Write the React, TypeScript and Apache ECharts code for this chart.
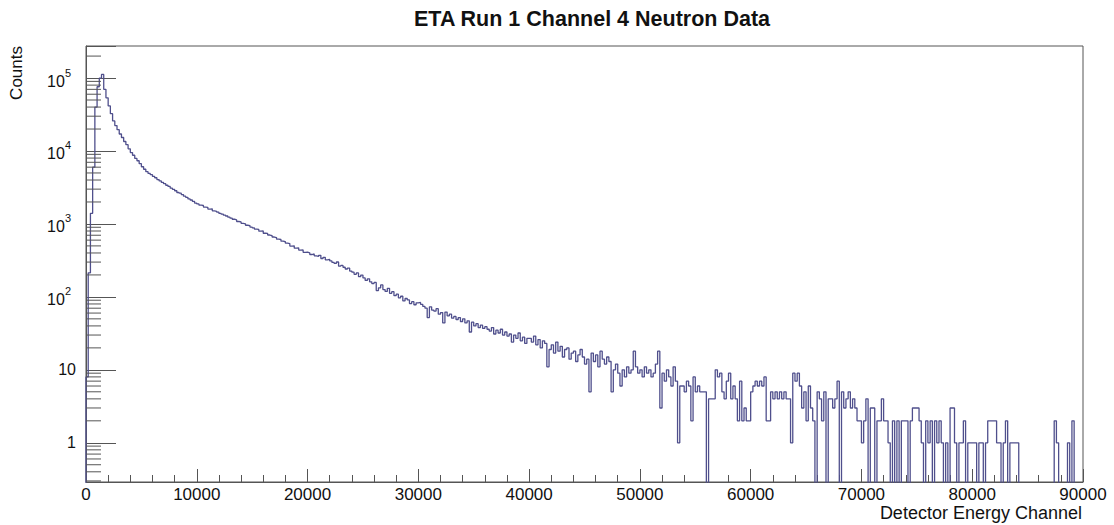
import React, { useEffect, useRef } from "react";
import * as echarts from "echarts";

const CHART_TITLE = "ETA Run 1 Channel 4 Neutron Data";
const X_TITLE = "Detector Energy Channel";
const Y_TITLE = "Counts";

const BIN_WIDTH = 200;
const X_MIN = 0;
const X_MAX = 90000;
const X_TICK_STEP = 10000;
const Y_MIN = 0.29;
const Y_MAX = 275000;
const Y_MINOR_MANTISSAS = [2, 3, 4, 5, 6, 7, 8, 9];
const Y_DECADES = [-1, 0, 1, 2, 3, 4, 5];

// bin contents, 200 channels per bin
const counts00kTo10k = [
  8, 214, 1400, 6000, 40000, 76000, 100000, 112000, 70000, 53500,
  41500, 32500, 25800, 22300, 19600, 17100, 15300, 13500, 12200, 10700,
  9500, 8750, 7900, 7350, 6700, 6080, 5620, 5210, 4930, 4740,
  4480, 4300, 4060, 3890, 3710, 3560, 3390, 3270, 3090, 2980,
  2850, 2700, 2640, 2530, 2400, 2320, 2200, 2130, 2040, 1930,
];
const counts10kTo20k = [
  1880, 1810, 1790, 1705, 1690, 1600, 1610, 1515, 1490, 1450,
  1395, 1360, 1320, 1285, 1240, 1200, 1160, 1135, 1080, 1065,
  1020, 1005, 960, 950, 905, 885, 850, 842, 795, 800,
  745, 742, 705, 690, 662, 650, 618, 612, 580, 570,
  545, 538, 498, 502, 466, 470, 438, 441, 408, 410,
];
const counts20kTo30k = [
  402, 381, 388, 366, 359, 371, 336, 349, 322, 328,
  311, 297, 288, 301, 264, 270, 255, 241, 248, 226,
  218, 204, 213, 189, 199, 182, 168, 177, 161, 152,
  158, 122, 133, 146, 126, 119, 131, 112, 118, 104,
  109, 97, 102, 88, 95, 91, 81, 86, 78, 83,
];
const counts30kTo40k = [
  84, 79, 74, 70, 52, 73, 66, 64, 69, 58,
  61, 44, 62, 55, 58, 51, 54, 49, 52, 46,
  50, 44, 47, 33, 45, 40, 43, 38, 41, 37,
  39, 36, 34, 38, 31, 35, 32, 36, 30, 33,
  29, 31, 24, 30, 27, 32, 25, 28, 23, 27,
];
const counts40kTo50k = [
  27, 24, 29, 22, 26, 20, 25, 23, 11, 19,
  22, 17, 24, 18, 21, 15, 19, 20, 14, 17,
  18, 13, 16, 19, 15, 12, 14, 5, 17, 13,
  16, 11, 18, 14, 12, 15, 13, 5, 10, 12,
  9, 6, 10, 8, 11, 9, 10, 18, 11, 9,
];
const counts50kTo60k = [
  10, 8, 11, 9, 10, 8, 9, 12, 18, 3,
  9, 7, 10, 8, 6, 11, 7, 1, 6, 6,
  5, 7, 6, 2, 8, 5, 6, 5, 5, 5,
  0, 4, 4, 4, 10, 8, 9, 5, 4, 7,
  9, 4, 6, 4, 2, 7, 2, 3, 2, 2,
];
const counts60kTo70k = [
  5, 6, 7, 6, 7, 6, 8, 2, 2, 5,
  4, 5, 4, 5, 4, 5, 4, 4, 1, 9,
  7, 9, 6, 3, 5, 2, 6, 3, 2, 0,
  5, 4, 2, 5, 0, 4, 4, 3, 4, 7,
  0, 5, 3, 4, 5, 3, 4, 3, 2, 2,
];
const counts70kTo80k = [
  1, 2, 4, 0, 3, 3, 0, 2, 2, 4,
  2, 2, 1, 0, 2, 0, 2, 0, 2, 2,
  2, 0, 2, 3, 3, 3, 2, 1, 0, 2,
  1, 2, 0, 2, 1, 2, 1, 0, 1, 0,
  3, 3, 1, 0, 1, 1, 2, 0, 1, 1,
];
const counts80kTo90k = [
  1, 1, 0, 1, 1, 0, 1, 2, 2, 2,
  2, 1, 1, 0, 1, 2, 0, 1, 1, 1,
  1, 0, 0, 0, 0, 0, 0, 0, 0, 0,
  0, 0, 0, 0, 0, 0, 0, 2, 1, 0,
  0, 0, 0, 1, 0, 2, 0, 0, 0, 0,
];

const LINE_COLOR = "#4f4f8c";
const AXIS_COLOR = "#555555";
const TEXT_COLOR = "#111111";
const FONT = "'Liberation Sans', Arial, Helvetica, sans-serif";

// empty bins are drawn down past the bottom of the log axis (clipped)
const EMPTY_BIN_LEVEL = 0.01;

function buildOption() {
  const allCounts = [
    ...counts00kTo10k,
    ...counts10kTo20k,
    ...counts20kTo30k,
    ...counts30kTo40k,
    ...counts40kTo50k,
    ...counts50kTo60k,
    ...counts60kTo70k,
    ...counts70kTo80k,
    ...counts80kTo90k,
  ];
  const lvl = (c: number) => (c > 0 ? c : EMPTY_BIN_LEVEL);
  const steps: number[][] = [[X_MIN, EMPTY_BIN_LEVEL]];
  allCounts.forEach((c, i) => steps.push([X_MIN + i * BIN_WIDTH, lvl(c)]));
  steps.push([X_MIN + allCounts.length * BIN_WIDTH, lvl(allCounts[allCounts.length - 1])]);

  const minorTicks: number[][] = [];
  Y_DECADES.forEach((d) =>
    Y_MINOR_MANTISSAS.forEach((m) => {
      const v = m * Math.pow(10, d);
      if (v >= Y_MIN && v <= Y_MAX) minorTicks.push([X_MIN, v]);
    })
  );

  return {
    animation: false,
    textStyle: { fontFamily: FONT, color: TEXT_COLOR },
    grid: {
      left: 86,
      top: 46,
      width: 997,
      height: 436,
      show: true,
      borderColor: AXIS_COLOR,
      borderWidth: 1,
      backgroundColor: "transparent",
    },
    xAxis: {
      type: "value",
      min: X_MIN,
      max: X_MAX,
      interval: X_TICK_STEP,
      axisLine: { show: true, lineStyle: { color: AXIS_COLOR, width: 1 } },
      axisTick: { show: true, inside: true, length: 13, lineStyle: { color: AXIS_COLOR } },
      minorTick: { show: true, splitNumber: 5, length: 7, lineStyle: { color: AXIS_COLOR } },
      splitLine: { show: false },
      minorSplitLine: { show: false },
      axisLabel: {
        fontSize: 17,
        margin: 4,
        color: TEXT_COLOR,
        fontFamily: FONT,
        formatter: (v: number) => String(Math.round(v)),
      },
    },
    yAxis: {
      type: "log",
      logBase: 10,
      min: Y_MIN,
      max: Y_MAX,
      axisLine: { show: true, lineStyle: { color: AXIS_COLOR, width: 1 } },
      axisTick: { show: true, inside: true, length: 30, lineStyle: { color: AXIS_COLOR } },
      splitLine: { show: false },
      axisLabel: {
        margin: 10,
        fontSize: 16,
        color: TEXT_COLOR,
        fontFamily: FONT,
        formatter: (value: number) => {
          const lg = Math.log10(value);
          const e = Math.round(lg);
          if (Math.abs(lg - e) > 1e-6) return "";
          if (e === 0) return "{p|1}";
          if (e === 1) return "{p|10}";
          return "{b|10}{s|" + e + "}";
        },
        rich: {
          p: { fontSize: 16, fontFamily: FONT, color: TEXT_COLOR },
          b: { fontSize: 16, fontFamily: FONT, color: TEXT_COLOR, verticalAlign: "bottom", lineHeight: 22 },
          s: {
            fontSize: 11,
            fontFamily: FONT,
            color: TEXT_COLOR,
            verticalAlign: "top",
            lineHeight: 22,
            padding: [0, 5, 0, 0],
          },
        },
      },
    },
    graphic: [
      {
        type: "text",
        x: 592,
        y: 8,
        style: {
          text: CHART_TITLE,
          fill: TEXT_COLOR,
          font: "bold 21.5px " + FONT,
          align: "center",
          verticalAlign: "top",
        },
      },
      {
        type: "text",
        x: 1082,
        y: 504,
        style: {
          text: X_TITLE,
          fill: TEXT_COLOR,
          font: "18px " + FONT,
          align: "right",
          verticalAlign: "top",
        },
      },
      {
        type: "text",
        x: 8,
        y: 46,
        rotation: Math.PI / 2,
        style: {
          text: Y_TITLE,
          fill: TEXT_COLOR,
          font: "17px " + FONT,
          align: "right",
          verticalAlign: "top",
        },
      },
    ],
    series: [
      {
        type: "line",
        step: "end",
        data: steps,
        showSymbol: false,
        symbol: "none",
        clip: true,
        lineStyle: { color: LINE_COLOR, width: 1.3 },
        itemStyle: { color: LINE_COLOR },
        z: 2,
      },
      {
        type: "custom",
        coordinateSystem: "cartesian2d",
        data: minorTicks,
        silent: true,
        clip: false,
        z: 3,
        renderItem: (params: any, api: any) => {
          const p = api.coord([api.value(0), api.value(1)]);
          return {
            type: "line",
            shape: { x1: p[0], y1: p[1], x2: p[0] + 15, y2: p[1] },
            style: { stroke: AXIS_COLOR, lineWidth: 1 },
          };
        },
      },
    ],
  };
}

export default function App() {
  const ref = useRef<HTMLDivElement>(null);
  useEffect(() => {
    if (!ref.current) return;
    const chart = echarts.init(ref.current, null, { renderer: "svg" });
    chart.setOption(buildOption() as any);
    return () => chart.dispose();
  }, []);
  return (
    <div
      ref={ref}
      style={{ position: "fixed", left: 0, top: 0, width: 1114, height: 525, background: "#ffffff" }}
    />
  );
}
